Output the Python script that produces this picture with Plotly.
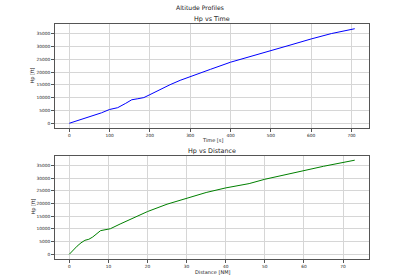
import plotly.graph_objects as go

time_s = [0, 20, 40, 60, 80, 100, 120, 140, 155, 170, 185, 200, 225, 250, 275, 300, 325, 350, 400, 450, 490, 500, 550, 600, 650, 708]
hp_time = [0, 1000, 2000, 3000, 4100, 5400, 6100, 7800, 9200, 9600, 10050, 11200, 13200, 15100, 16800, 18300, 19800, 21100, 23900, 26100, 27800, 28200, 30700, 33000, 35100, 37000]

dist_nm = [0, 1, 2, 3, 4, 5, 6, 8, 10.5, 13, 16, 20, 25, 30, 35, 40, 46, 50, 55, 60, 65, 73]
hp_dist = [0, 1800, 3200, 4500, 5500, 5900, 6800, 9300, 10050, 11900, 13900, 16800, 19700, 22100, 24300, 26100, 27800, 29500, 31300, 33000, 34600, 37000]

x1_ticks = [0, 100, 200, 300, 400, 500, 600, 700]
x2_ticks = [0, 10, 20, 30, 40, 50, 60, 70]
y_ticks = [0, 5000, 10000, 15000, 20000, 25000, 30000, 35000]

FONT = "DejaVu Sans"
fig = go.Figure()
fig.add_trace(go.Scatter(x=time_s, y=hp_time, mode="lines", line=dict(color="blue", width=1), xaxis="x", yaxis="y"))
fig.add_trace(go.Scatter(x=dist_nm, y=hp_dist, mode="lines", line=dict(color="green", width=1), xaxis="x2", yaxis="y2"))

ax_common = dict(showline=True, linecolor="#555", linewidth=1, mirror=True, showgrid=True, gridcolor="#d6d6d6",
                 gridwidth=1, zeroline=False, ticks="outside", ticklen=3, tickcolor="#555",
                 tickfont=dict(family=FONT, size=4.3, color="#222"), tickformat="d")

H = 280.0
def py(px):
    return 1 - px / H

def ann(text, x, ypx, size=5.5, angle=0):
    return dict(text=text, x=x, y=py(ypx), xref="paper", yref="paper", showarrow=False,
                font=dict(size=size, family=FONT, color="#222"), xanchor="center", yanchor="middle",
                textangle=angle)

fig.update_layout(
    width=400, height=280, margin=dict(l=0, r=0, t=0, b=0), showlegend=False,
    paper_bgcolor="white", plot_bgcolor="white",
    font=dict(family=FONT, color="#222"),
    xaxis=dict(domain=[0.1375, 0.9225], anchor="y", range=[-35.4, 743.4], tickvals=x1_ticks, **ax_common),
    yaxis=dict(domain=[py(128), py(24)], anchor="x", range=[-1850, 38850], tickvals=y_ticks, **ax_common),
    xaxis2=dict(domain=[0.1375, 0.9225], anchor="y2", range=[-3.65, 76.65], tickvals=x2_ticks, **ax_common),
    yaxis2=dict(domain=[py(259), py(155.5)], anchor="x2", range=[-1850, 38850], tickvals=y_ticks, **ax_common),
    annotations=[
        ann("Altitude Profiles", 0.5, 7.5, 6.1),
        ann("Hp vs Time", 0.53, 19, 6.4),
        ann("Hp vs Distance", 0.53, 151, 6.4),
        ann("Time [s]", 0.53, 139.5, 5),
        ann("Distance [NM]", 0.53, 271.5, 5),
        ann("Hp [ft]", 32.5 / 400, 76, 5, -90),
        ann("Hp [ft]", 32.5 / 400, 207, 5, -90),
    ],
)

fig.write_html("out.html")
